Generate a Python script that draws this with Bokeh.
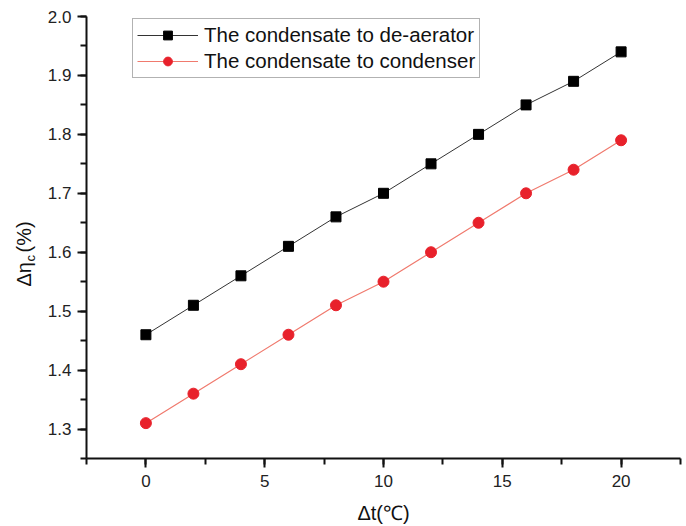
from bokeh.plotting import figure
from bokeh.layouts import row
from bokeh.models import SingleIntervalTicker, Range1d, Label, Legend, LegendItem, NumeralTickFormatter
from bokeh.embed import file_html
from bokeh.resources import INLINE
import math

dt = [0, 2, 4, 6, 8, 10, 12, 14, 16, 18, 20]
deaerator = [1.46, 1.51, 1.56, 1.61, 1.66, 1.70, 1.75, 1.80, 1.85, 1.89, 1.94]
condenser = [1.31, 1.36, 1.41, 1.46, 1.51, 1.55, 1.60, 1.65, 1.70, 1.74, 1.79]
name1 = "The condensate to de-aerator"
name2 = "The condensate to condenser"
ylabel_main = "Δη"
ylabel_sub = "c"
ylabel_tail = "(%)"
xlabel = "Δt(℃)"

FONT = "Liberation Sans"
LW = 44  # width of the strip holding the y-axis title

yrange = Range1d(1.25, 2.0)

# ---- strip with the y-axis title (needs a subscript) ----
lf = figure(width=LW, height=526, output_backend="svg", toolbar_location=None,
            x_range=Range1d(0, LW), y_range=yrange,
            x_axis_location=None, y_axis_location=None,
            min_border_left=0, min_border_right=0, min_border_top=0, min_border_bottom=0)
lf.outline_line_color = None
lf.grid.visible = False


def ypx(py):
    # page pixel row -> value on the shared y range (frame 16..458 px)
    return 2.0 - (py - 16) / 589.3


common = dict(angle=math.pi / 2, text_font=FONT, text_color="#111111",
              text_align="left", text_baseline="middle")
lf.add_layout(Label(x=23, y=ypx(286), text=ylabel_main, text_font_size="20px", **common))
lf.add_layout(Label(x=29.5, y=ypx(261), text=ylabel_sub, text_font_size="13px", **common))
lf.add_layout(Label(x=23, y=ypx(252), text=ylabel_tail, text_font_size="20px", **common))

# ---- main chart ----
p = figure(width=686 - LW, height=526, output_backend="svg", toolbar_location=None,
           x_range=Range1d(-2.5, 22.5), y_range=yrange,
           min_border_left=86 - LW, min_border_right=6, min_border_top=16, min_border_bottom=68)
p.outline_line_color = None
p.xgrid.visible = False
p.ygrid.visible = False

l1 = p.line(dt, deaerator, line_color="#333333", line_width=1)
m1 = p.scatter(dt, deaerator, marker="square", size=10, fill_color="black", line_color="black")
l2 = p.line(dt, condenser, line_color="#f07a6e", line_width=1.2)
m2 = p.scatter(dt, condenser, marker="circle", size=11, fill_color="#e8212b", line_color="#e8212b")

legend = Legend(items=[LegendItem(label=name1, renderers=[l1, m1]),
                       LegendItem(label=name2, renderers=[l2, m2])],
                location=(46, 380), label_text_font=FONT, label_text_font_size="20.5px",
                label_text_color="#111111", border_line_color="#666666", border_line_width=1,
                glyph_width=61, glyph_height=22, spacing=2, padding=4, margin=0,
                label_standoff=6, label_height=22)
p.add_layout(legend, "center")

for ax in (p.xaxis[0], p.yaxis[0]):
    ax.axis_line_width = 2
    ax.axis_line_color = "#111111"
    ax.major_tick_line_width = 2
    ax.minor_tick_line_width = 2
    ax.major_tick_line_color = "#111111"
    ax.minor_tick_line_color = "#111111"
    ax.major_tick_out = 9
    ax.major_tick_in = 0
    ax.minor_tick_out = 6
    ax.minor_tick_in = 0
    ax.major_label_text_font = FONT
    ax.major_label_text_font_size = "17px"
    ax.major_label_text_color = "#222222"

p.xaxis.ticker = SingleIntervalTicker(interval=5, num_minor_ticks=2)
p.yaxis.ticker = SingleIntervalTicker(interval=0.1, num_minor_ticks=2)
p.yaxis.formatter = NumeralTickFormatter(format="0.0")
p.xaxis.major_label_standoff = 7
p.yaxis.major_label_standoff = 6

p.xaxis.axis_label = xlabel
p.xaxis.axis_label_text_font = FONT
p.xaxis.axis_label_text_font_size = "20px"
p.xaxis.axis_label_text_font_style = "normal"
p.xaxis.axis_label_text_color = "#111111"
p.xaxis.axis_label_standoff = 12

layout = row(lf, p, spacing=0)
open("out.html", "w").write(file_html(layout, INLINE))
